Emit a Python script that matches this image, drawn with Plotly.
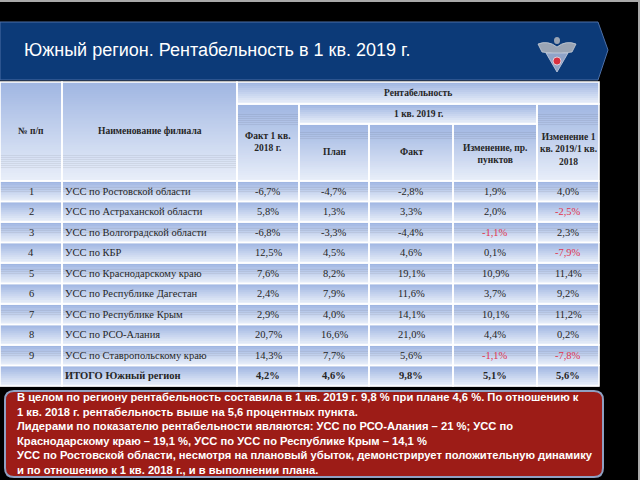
import plotly.graph_objects as go

# ---------------- data ----------------
title_text = "Южный регион. Рентабельность в 1 кв. 2019 г."
row_nums = ["1", "2", "3", "4", "5", "6", "7", "8", "9", ""]
branches = [
    "УСС по Ростовской области",
    "УСС по Астраханской области",
    "УСС по Волгоградской области",
    "УСС по КБР",
    "УСС по Краснодарскому краю",
    "УСС по Республике Дагестан",
    "УСС по Республике Крым",
    "УСС по РСО-Алания",
    "УСС по Ставропольскому краю",
    "ИТОГО Южный регион",
]
fact_2018 = [-6.7, 5.8, -6.8, 12.5, 7.6, 2.4, 2.9, 20.7, 14.3, 4.2]
plan_2019 = [-4.7, 1.3, -3.3, 4.5, 8.2, 7.9, 4.0, 16.6, 7.7, 4.6]
fact_2019 = [-2.8, 3.3, -4.4, 4.6, 19.1, 11.6, 14.1, 21.0, 5.6, 9.8]
change_pp = [1.9, 2.0, -1.1, 0.1, 10.9, 3.7, 10.1, 4.4, -1.1, 5.1]
change_yoy = [4.0, -2.5, 2.3, -7.9, 11.4, 9.2, 11.2, 0.2, -7.8, 5.6]

hdr_num = "№ п/п"
hdr_name = "Наименование филиала"
hdr_rent = "Рентабельность"
hdr_f18 = "Факт 1 кв.<br>2018 г."
hdr_q1 = "1 кв. 2019 г."
hdr_plan = "План"
hdr_fact = "Факт"
hdr_chg = "Изменение, пр.<br>пунктов"
hdr_yoy = "Изменение 1<br>кв. 2019/1 кв.<br>2018"

note_lines = [
    "В целом по региону рентабельность составила в 1 кв. 2019 г. 9,8 % при плане 4,6 %. По отношению к",
    "1 кв. 2018 г. рентабельность выше на 5,6 процентных пункта.",
    "Лидерами по показателю рентабельности являются: УСС по РСО-Алания – 21 %; УСС по",
    "Краснодарскому краю – 19,1 %, УСС по УСС по Республике Крым – 14,1 %",
    "УСС по Ростовской области, несмотря на плановый убыток, демонстрирует положительную динамику",
    "и по отношению к 1 кв. 2018 г., и в выполнении плана.",
]

# ---------------- layout geometry ----------------
X = [0, 62, 237, 299, 369, 453, 537, 599]
HY = [82, 104, 124, 181]
ROW_TOP = 181
ROW_H = 20.5

TOP_C = (160, 182, 226)
BOT_C = (232, 238, 249)

shapes = []
annotations = []


def rgb(c):
    return "rgb(%d,%d,%d)" % c


def grad_rect(x0, x1, y0, y1, ctop=TOP_C, cbot=BOT_C, step=2.0):
    n = max(2, int(round((y1 - y0) / step)))
    h = (y1 - y0) / n
    for i in range(n):
        t = i / (n - 1)
        c = tuple(int(round(ctop[k] + (cbot[k] - ctop[k]) * t)) for k in range(3))
        shapes.append(dict(type="rect", xref="x", yref="y", x0=x0, x1=x1,
                           y0=y0 + i * h, y1=y0 + (i + 1) * h + 0.6,
                           line=dict(width=0), fillcolor=rgb(c), layer="below"))


def border(x0, x1, y0, y1):
    shapes.append(dict(type="rect", xref="x", yref="y", x0=x0, x1=x1, y0=y0, y1=y1,
                       line=dict(color="white", width=1.6), fillcolor="rgba(0,0,0,0)"))


def txt(x, y, s, size=10.5, bold=False, color="#262626", xanchor="center"):
    annotations.append(dict(x=x, y=y, xref="x", yref="y", text=("<b>%s</b>" % s) if bold else s,
                            showarrow=False, xanchor=xanchor, yanchor="middle", align="center",
                            font=dict(family="Liberation Serif", size=size, color=color)))


# background frame
shapes.append(dict(type="rect", x0=0, x1=640, y0=0, y1=2, line=dict(width=0), fillcolor="#a9a9a9"))
shapes.append(dict(type="rect", x0=638, x1=640, y0=0, y1=480, line=dict(width=0), fillcolor="#a9a9a9"))

# banner
shapes.append(dict(type="path", path="M0,22 L598,22 L608,50 L598,80 L0,80 Z",
                   fillcolor="#0c3a78", line=dict(color="#4d6fa6", width=1)))
annotations.append(dict(x=22, y=50, xref="x", yref="y", text=title_text, showarrow=False,
                        xanchor="left", yanchor="middle",
                        font=dict(family="Liberation Sans", size=18, color="white")))
# emblem
shapes.append(dict(type="path", path="M538,44 Q548,40 557,47 Q566,40 576,44 L572,52 L557,54 L542,52 Z",
                   fillcolor="#9aa4b4", line=dict(color="#c8ced8", width=0.8)))
shapes.append(dict(type="path", path="M546,53 L568,53 L557,72 Z",
                   fillcolor="#8fa3c8", line=dict(color="#c8d0e0", width=0.8)))
shapes.append(dict(type="circle", x0=553, x1=561, y0=57, y1=65, fillcolor="#d83040",
                   line=dict(color="#e8e8f0", width=0.8)))
shapes.append(dict(type="circle", x0=554, x1=560, y0=37, y1=44, fillcolor="#9aa4b4", line=dict(width=0)))

# header cells
hdr_cells = [
    (X[0], X[1], HY[0], HY[3]), (X[1], X[2], HY[0], HY[3]),
    (X[2], X[7], HY[0], HY[1]),
    (X[2], X[3], HY[1], HY[3]), (X[3], X[6], HY[1], HY[2]), (X[6], X[7], HY[1], HY[3]),
    (X[3], X[4], HY[2], HY[3]), (X[4], X[5], HY[2], HY[3]), (X[5], X[6], HY[2], HY[3]),
]
for c in hdr_cells:
    grad_rect(*c)

# data rows background
nrows = len(branches)
for i in range(nrows):
    grad_rect(X[0], X[7], ROW_TOP + i * ROW_H, ROW_TOP + (i + 1) * ROW_H, step=2.0)

# borders
for c in hdr_cells:
    border(*c)
for i in range(nrows):
    for j in range(7):
        border(X[j], X[j + 1], ROW_TOP + i * ROW_H, ROW_TOP + (i + 1) * ROW_H)

# header text
hs = 9.5
txt((X[0] + X[1]) / 2, 131, hdr_num, hs, True)
txt((X[1] + X[2]) / 2, 131, hdr_name, hs, True)
txt((X[2] + X[7]) / 2, 93, hdr_rent, hs, True)
txt((X[2] + X[3]) / 2, 142, hdr_f18, hs, True)
txt((X[3] + X[6]) / 2, 114, hdr_q1, hs, True)
txt((X[3] + X[4]) / 2, 152, hdr_plan, hs, True)
txt((X[4] + X[5]) / 2, 152, hdr_fact, hs, True)
txt((X[5] + X[6]) / 2, 154, hdr_chg, hs, True)
txt((X[6] + X[7]) / 2, 149, hdr_yoy, hs, True)


def fmt(v):
    return ("%.1f" % v).replace(".", ",") + "%"


series = [fact_2018, plan_2019, fact_2019, change_pp, change_yoy]
red_cols = {3, 4}
for i in range(nrows):
    yc = ROW_TOP + (i + 0.5) * ROW_H
    bold = i == nrows - 1
    if row_nums[i]:
        txt((X[0] + X[1]) / 2, yc, row_nums[i], 10.5, bold)
    txt(X[1] + 1, yc, branches[i], 10.5, bold, xanchor="left")
    for k, s in enumerate(series):
        v = s[i]
        col = "#e0344e" if (k in red_cols and v < 0) else "#262626"
        txt((X[k + 2] + X[k + 3]) / 2, yc, fmt(v), 10.5, bold, color=col)

# note box
bx0, bx1, by0, by1, r = 5, 603, 391, 477, 9
path = ("M%d,%d L%d,%d Q%d,%d %d,%d L%d,%d Q%d,%d %d,%d L%d,%d Q%d,%d %d,%d L%d,%d Q%d,%d %d,%d Z" % (
    bx0 + r, by0, bx1 - r, by0, bx1, by0, bx1, by0 + r,
    bx1, by1 - r, bx1, by1, bx1 - r, by1,
    bx0 + r, by1, bx0, by1, bx0, by1 - r,
    bx0, by0 + r, bx0, by0, bx0 + r, by0))
shapes.append(dict(type="path", path=path, fillcolor="#9d1c17", line=dict(color="#8fa0c2", width=2)))
note_html = "<br>".join("<b>%s</b>" % ln for ln in note_lines)
annotations.append(dict(x=15, y=433.5, xref="x", yref="y", text=note_html,
                        showarrow=False, xanchor="left", yanchor="middle", align="left",
                        font=dict(family="Liberation Sans", size=11.2, color="white")))

fig = go.Figure()
fig.add_trace(go.Scatter(x=[0, 640], y=[0, 480], mode="markers", marker=dict(opacity=0),
                         hoverinfo="skip", showlegend=False))
fig.update_layout(
    width=640, height=480, margin=dict(l=0, r=0, t=0, b=0),
    paper_bgcolor="black", plot_bgcolor="black",
    xaxis=dict(range=[0, 640], visible=False, fixedrange=True),
    yaxis=dict(range=[480, 0], visible=False, fixedrange=True),
    shapes=shapes, annotations=annotations, showlegend=False,
)
fig.write_html("out.html", config={"displayModeBar": False},
               post_script="document.body.style.margin='0';document.body.style.padding='0';"
                           "document.body.style.overflow='hidden';document.body.style.background='black';")
